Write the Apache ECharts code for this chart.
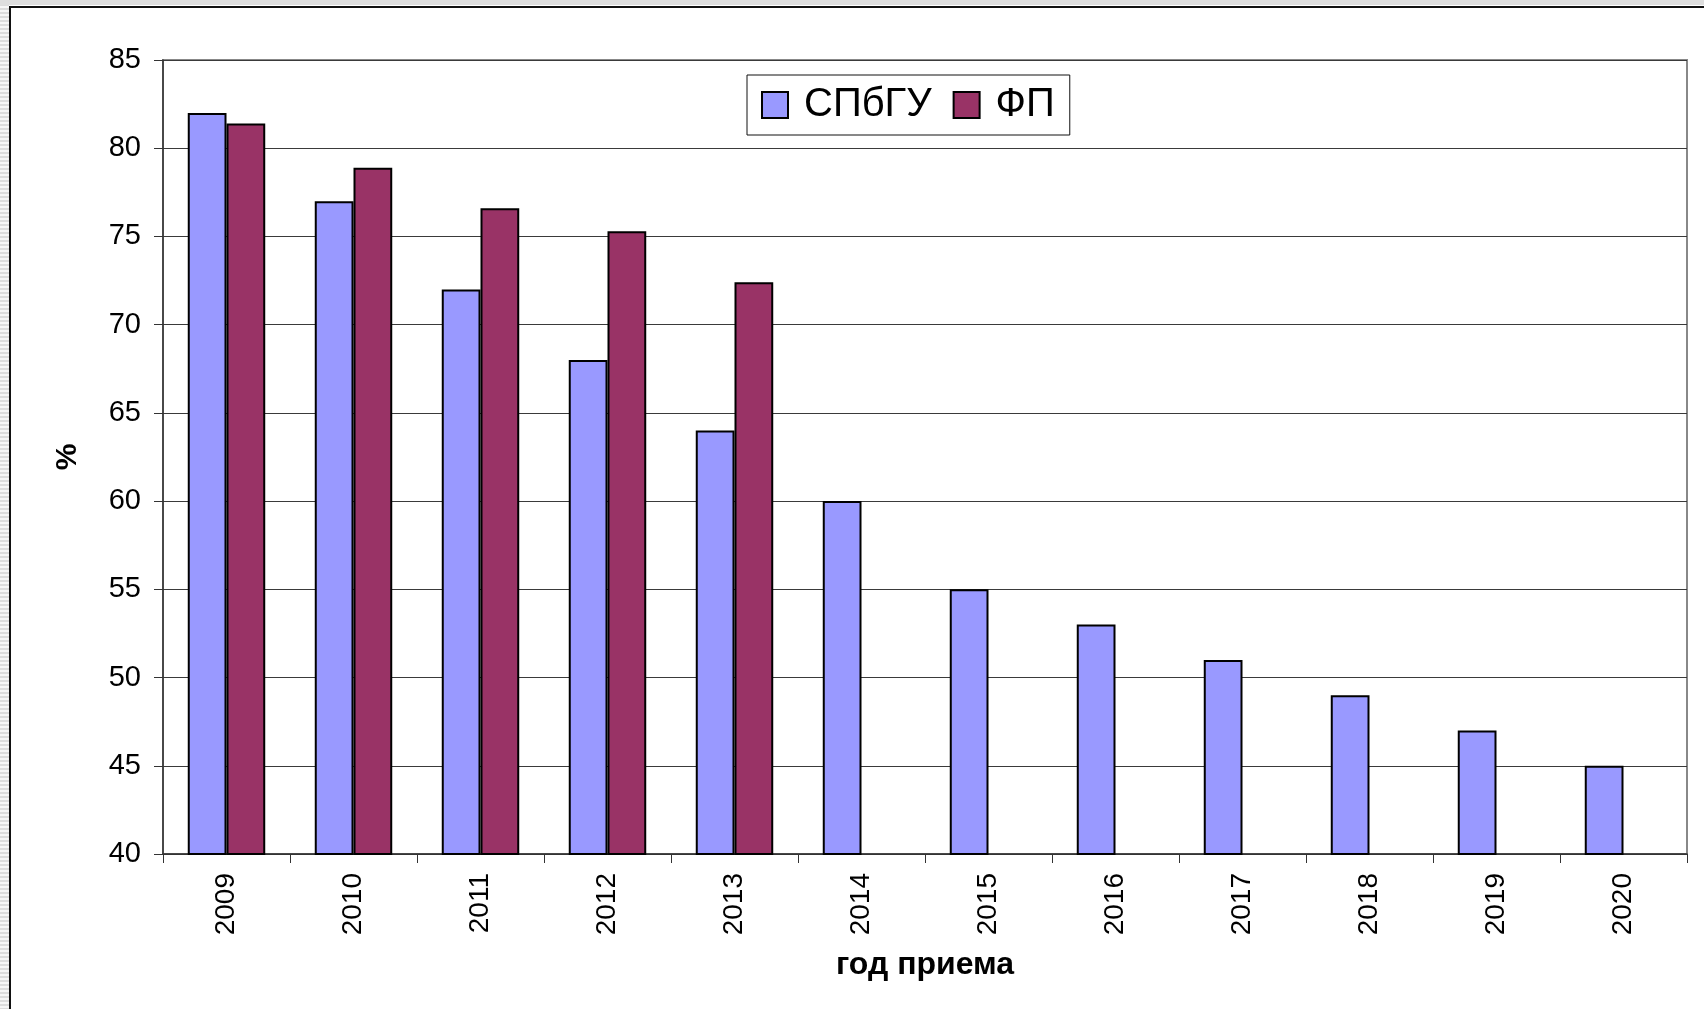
<!DOCTYPE html>
<html>
<head>
<meta charset="utf-8">
<script src="https://cdn.jsdelivr.net/npm/echarts@6/dist/echarts.min.js"></script>
<style>
  html, body { margin: 0; padding: 0; background: #fff; }
  .strip { position: absolute; left: 0; top: 0; width: 9px; height: 1009px;
    background: repeating-linear-gradient(180deg, #dcdcdc 0px, #dcdcdc 2px, #f6f6f6 2px, #f6f6f6 4px); }
  .band { position: absolute; left: 0; top: 0; width: 1704px; height: 5px; background: #dedede; }
  .frame { position: absolute; left: 9px; top: 6px; width: 1695px; height: 1003px;
    border-left: 2px solid #111; border-top: 2px solid #111; box-sizing: border-box; }
  #main { position: absolute; left: 0; top: 0; width: 1704px; height: 1009px; }
</style>
</head>
<body>
<div class="strip"></div>
<div class="band"></div>
<div class="frame"></div>
<div id="main"></div>
<script>
// годы приема
const years = ['2009', '2010', '2011', '2012', '2013', '2014', '2015', '2016', '2017', '2018', '2019', '2020']
// СПбГУ, %
const spbguValues = [82, 77, 72, 68, 64, 60, 55, 53, 51, 49, 47, 45]
// ФП, % (только до 2013)
const fpValues = [81.4, 78.9, 76.6, 75.3, 72.4, null, null, null, null, null, null, null]

const chart = echarts.init(document.getElementById('main'))
const font = 'Liberation Sans, Arial, sans-serif'

const option = {
  animation: false,
  textStyle: { fontFamily: font },
  grid: {
    left: 163,
    top: 60,
    right: 17,
    bottom: 155,
    show: true,
    borderColor: '#888',
    borderWidth: 2
  },
  legend: {
    left: 747,
    top: 75,
    padding: [10, 15, 10, 14],
    borderColor: '#111',
    borderWidth: 1,
    icon: 'rect',
    itemWidth: 26,
    itemHeight: 26,
    itemGap: 21,
    textStyle: { fontSize: 40, color: '#000', fontFamily: font, padding: [0, 0, 0, 11] },
    data: ['СПбГУ', 'ФП']
  },
  xAxis: {
    type: 'category',
    data: years,
    name: 'год приема',
    nameLocation: 'middle',
    nameGap: 95,
    nameTextStyle: { fontSize: 32, fontWeight: 'bold', color: '#000', fontFamily: font },
    axisLine: { lineStyle: { color: '#333', width: 1.5 } },
    axisTick: { show: true, length: 9, lineStyle: { color: '#333' } },
    axisLabel: { rotate: 90, fontSize: 28, color: '#000', margin: 19, fontFamily: font }
  },
  yAxis: {
    type: 'value',
    min: 40,
    max: 85,
    interval: 5,
    name: '%',
    nameLocation: 'middle',
    nameGap: 80,
    nameRotate: 90,
    nameTextStyle: { fontSize: 30, fontWeight: 'bold', color: '#000', fontFamily: font },
    axisLine: { show: true, lineStyle: { color: '#333', width: 1.5 } },
    axisTick: { show: true, length: 9, lineStyle: { color: '#333' } },
    axisLabel: { fontSize: 29, color: '#000', margin: 22, fontFamily: font },
    splitLine: { show: true, lineStyle: { color: '#3a3a3a', width: 1 } }
  },
  series: [
    {
      name: 'СПбГУ',
      type: 'bar',
      data: spbguValues,
      barGap: '0%',
      barCategoryGap: '39%',
      itemStyle: { color: '#9999ff', borderColor: '#000', borderWidth: 2 }
    },
    {
      name: 'ФП',
      type: 'bar',
      data: fpValues,
      itemStyle: { color: '#993366', borderColor: '#000', borderWidth: 2 }
    }
  ]
}

chart.setOption(option)
</script>
</body>
</html>
